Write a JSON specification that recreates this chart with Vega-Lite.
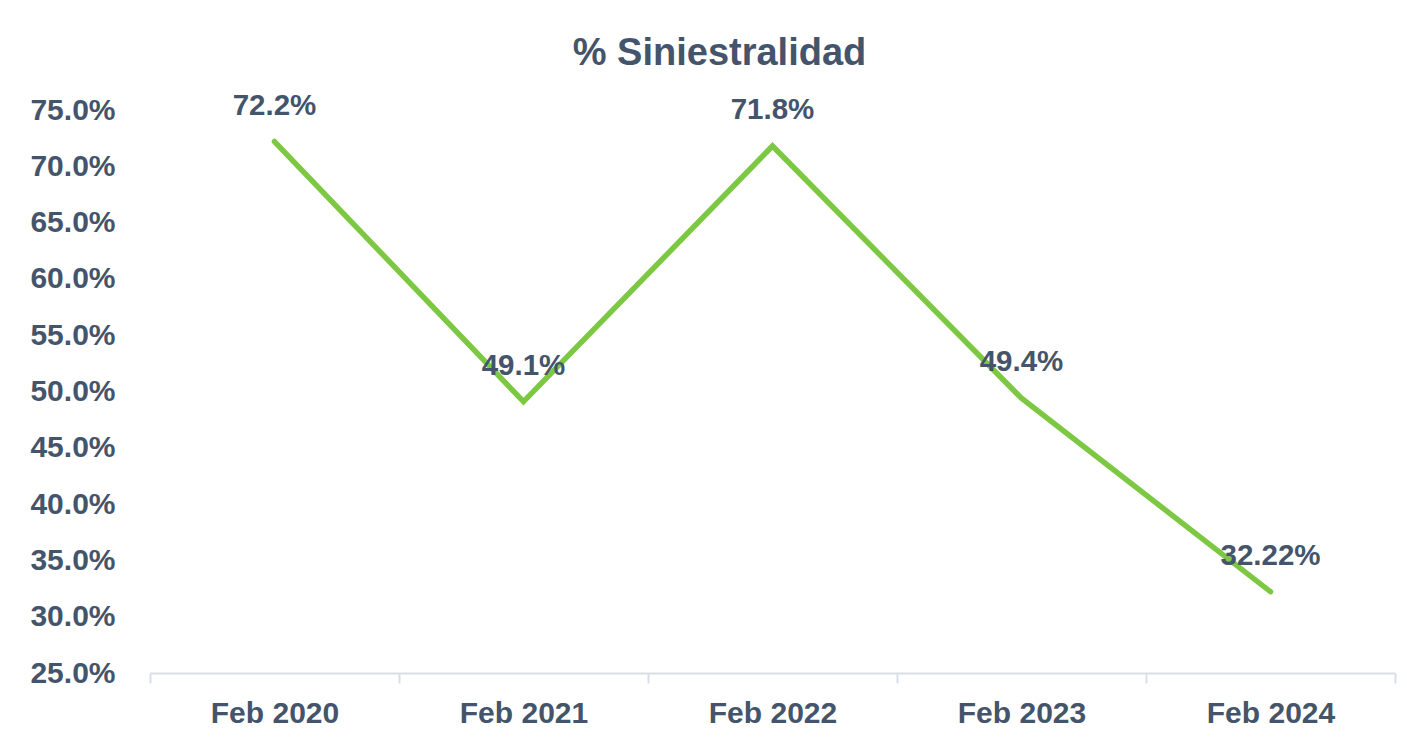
{
  "$schema": "https://vega.github.io/schema/vega-lite/v6.json",
  "autosize": {"type": "none"},
  "width": 1245,
  "height": 563,
  "padding": {"left": 150, "top": 110, "right": 12, "bottom": 66},
  "background": "white",
  "title": {
    "text": "% Siniestralidad",
    "font": "Liberation Sans",
    "fontSize": 38,
    "fontWeight": "bold",
    "color": "#44546a",
    "anchor": "middle",
    "frame": "group",
    "dx": -53,
    "offset": 18
  },
  "config": {
    "view": {"stroke": null},
    "font": "Liberation Sans"
  },
  "data": {
    "values": [
      {"periodo": "Feb 2020", "valor": 0.722, "etiqueta": "72.2%"},
      {"periodo": "Feb 2021", "valor": 0.491, "etiqueta": "49.1%"},
      {"periodo": "Feb 2022", "valor": 0.718, "etiqueta": "71.8%"},
      {"periodo": "Feb 2023", "valor": 0.494, "etiqueta": "49.4%"},
      {"periodo": "Feb 2024", "valor": 0.3222, "etiqueta": "32.22%"}
    ]
  },
  "encoding": {
    "x": {
      "field": "periodo",
      "type": "ordinal",
      "sort": null,
      "scale": {"type": "band", "paddingInner": 0, "paddingOuter": 0},
      "axis": {
        "title": null,
        "labelAngle": 0,
        "labelFont": "Liberation Sans",
        "labelFontSize": 30,
        "labelFontWeight": "bold",
        "labelColor": "#44546a",
        "labelPadding": 15,
        "domainColor": "#d9dee6",
        "domainWidth": 2,
        "tickColor": "#d9dee6",
        "tickWidth": 2,
        "tickSize": 10,
        "tickBand": "extent",
        "grid": false
      }
    },
    "y": {
      "field": "valor",
      "type": "quantitative",
      "scale": {"domain": [0.25, 0.75], "nice": false, "zero": false},
      "axis": {
        "title": null,
        "values": [0.25, 0.3, 0.35, 0.4, 0.45, 0.5, 0.55, 0.6, 0.65, 0.7, 0.75],
        "format": ".1%",
        "labelFont": "Liberation Sans",
        "labelFontSize": 30,
        "labelFontWeight": "bold",
        "labelColor": "#44546a",
        "labelPadding": 35,
        "domain": false,
        "ticks": false,
        "grid": false
      }
    }
  },
  "layer": [
    {
      "mark": {"type": "line", "color": "#7dc843", "strokeWidth": 5.5, "strokeCap": "round", "strokeJoin": "miter"}
    },
    {
      "mark": {"type": "text", "dy": -36, "font": "Liberation Sans", "fontSize": 29.5, "fontWeight": "bold", "color": "#44546a"},
      "encoding": {"text": {"field": "etiqueta"}}
    }
  ]
}
